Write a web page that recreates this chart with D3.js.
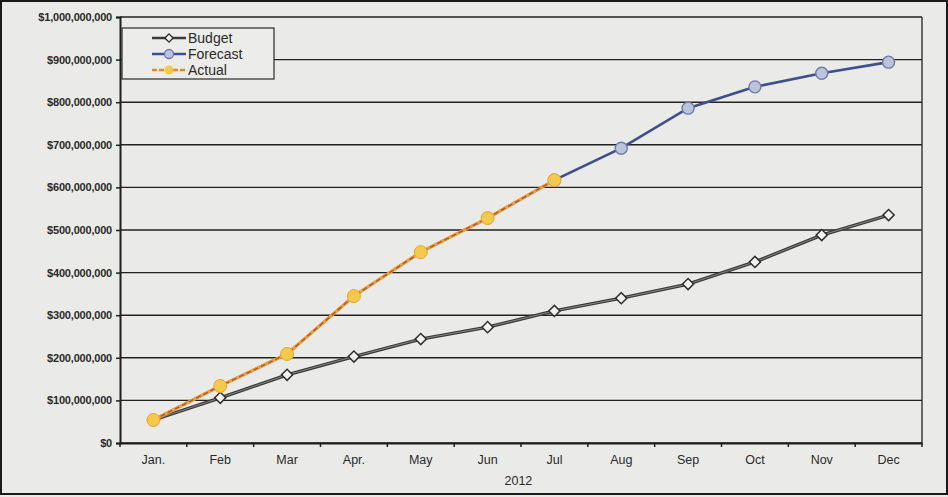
<!DOCTYPE html>
<html>
<head>
<meta charset="utf-8">
<script src="https://cdn.jsdelivr.net/npm/d3@7"></script>
<style>
  html, body { margin: 0; padding: 0; background: #eaeae8; }
  svg { display: block; }
  text { font-family: "Liberation Sans", Arial, sans-serif; fill: #2a2a2a; }
</style>
</head>
<body>
<svg id="chart" width="948" height="497"></svg>
<script>
// Cumulative 2012 spend, dollars
const months = ["Jan.", "Feb", "Mar", "Apr.", "May", "Jun", "Jul", "Aug", "Sep", "Oct", "Nov", "Dec"];
const budget = [54e6, 106e6, 160e6, 203e6, 244e6, 272e6, 310e6, 340e6, 373e6, 425e6, 488e6, 535e6];
const forecast = [54e6, 134e6, 209e6, 345e6, 448e6, 528e6, 617e6, 692e6, 786e6, 836e6, 868e6, 894e6];
const actual = [54e6, 134e6, 209e6, 345e6, 448e6, 528e6, 617e6, null, null, null, null, null];
const yTicks = [0, 1e8, 2e8, 3e8, 4e8, 5e8, 6e8, 7e8, 8e8, 9e8, 1e9];
const xTitle = "2012";

const svg = d3.select("#chart");
const W = 948, H = 497;
const m = { left: 120, right: 26, top: 17, bottom: 54 };
const iw = W - m.left - m.right, ih = H - m.top - m.bottom;

// outer frame
svg.append("rect").attr("x", 1).attr("y", 1).attr("width", W - 2).attr("height", H - 4)
  .attr("fill", "#eaeae8").attr("stroke", "#1a1a1a").attr("stroke-width", 2);

const g = svg.append("g").attr("transform", `translate(${m.left},${m.top})`);

const x = d3.scaleBand().domain(months).range([0, iw]);
const y = d3.scaleLinear().domain([0, 1e9]).range([ih, 0]);
const cx = d => x(d) + x.bandwidth() / 2;

// horizontal gridlines
g.append("g").selectAll("line").data(yTicks).join("line")
  .attr("x1", 0).attr("x2", iw)
  .attr("y1", d => y(d)).attr("y2", d => y(d))
  .attr("stroke", "#222").attr("stroke-width", 1.4);

// right border of the plot
g.append("line").attr("x1", iw).attr("x2", iw).attr("y1", 0).attr("y2", ih)
  .attr("stroke", "#222").attr("stroke-width", 1.3);

// y axis
const yAxis = d3.axisLeft(y).tickValues(yTicks).tickSize(4).tickPadding(4)
  .tickFormat(d => "$" + d3.format(",")(d));
const ya = g.append("g").call(yAxis);
ya.select(".domain").attr("stroke", "#1e1e1e").attr("stroke-width", 2);
ya.selectAll(".tick line").attr("stroke", "#1e1e1e").attr("stroke-width", 1.5);
ya.selectAll(".tick text").attr("font-size", 11).attr("font-weight", "bold")
  .attr("fill", "#333").style("letter-spacing", "-0.2px");

// x axis with ticks between categories
const xa = g.append("g").attr("transform", `translate(0,${ih})`)
  .call(d3.axisBottom(x).tickSize(0).tickPadding(12));
xa.select(".domain").attr("stroke", "#1e1e1e").attr("stroke-width", 2);
xa.selectAll(".tick text").attr("font-size", 12.5).attr("fill", "#333");
xa.append("g").selectAll("line").data(d3.range(months.length + 1)).join("line")
  .attr("x1", i => i * x.step()).attr("x2", i => i * x.step())
  .attr("y1", 0).attr("y2", 4)
  .attr("stroke", "#1e1e1e").attr("stroke-width", 1.5);

g.append("text").attr("x", cx("Jul") - 36).attr("y", ih + 42)
  .attr("text-anchor", "middle").attr("font-size", 12.5).text(xTitle);

const line = d3.line()
  .defined(d => d.v != null)
  .x(d => cx(d.m)).y(d => y(d.v));
const pts = arr => months.map((mo, i) => ({ m: mo, v: arr[i] }));

// Budget: dark double line with hollow diamonds
g.append("path").datum(pts(budget)).attr("d", line)
  .attr("fill", "none").attr("stroke", "#3a3a3a").attr("stroke-width", 3.4);
g.append("path").datum(pts(budget)).attr("d", line)
  .attr("fill", "none").attr("stroke", "#9a9a9a").attr("stroke-width", 0.8);
const diamond = d3.symbol().type(d3.symbolSquare).size(62);
g.append("g").selectAll("path").data(pts(budget)).join("path")
  .attr("d", diamond)
  .attr("transform", d => `translate(${cx(d.m)},${y(d.v)}) rotate(45)`)
  .attr("fill", "#f2f2f0").attr("stroke", "#2e2e2e").attr("stroke-width", 1.5);

// Forecast: blue line with pale circles
g.append("path").datum(pts(forecast)).attr("d", line)
  .attr("fill", "none").attr("stroke", "#3f4f8a").attr("stroke-width", 2.6);
g.append("g").selectAll("circle").data(pts(forecast).slice(6)).join("circle")
  .attr("cx", d => cx(d.m)).attr("cy", d => y(d.v)).attr("r", 6)
  .attr("fill", "#bcc4dc").attr("stroke", "#6f7cab").attr("stroke-width", 1.4);

// Actual: orange line with brown dashes and yellow dots
g.append("path").datum(pts(actual)).attr("d", line)
  .attr("fill", "none").attr("stroke", "#f0a23a").attr("stroke-width", 3.2);
g.append("path").datum(pts(actual)).attr("d", line)
  .attr("fill", "none").attr("stroke", "#b0582a").attr("stroke-width", 1.4)
  .attr("stroke-dasharray", "5,3");
g.append("g").selectAll("circle").data(pts(actual).filter(d => d.v != null)).join("circle")
  .attr("cx", d => cx(d.m)).attr("cy", d => y(d.v)).attr("r", 6.5)
  .attr("fill", "#f6c94a").attr("stroke", "#e7a53a").attr("stroke-width", 1);

// legend
const lg = g.append("g").attr("transform", "translate(2,11)");
lg.append("rect").attr("width", 152).attr("height", 51)
  .attr("fill", "#ececea").attr("stroke", "#2a2a2a").attr("stroke-width", 1.2);
const items = [
  { name: "Budget", color: "#3a3a3a", mark: "diamond" },
  { name: "Forecast", color: "#3f4f8a", mark: "circle" },
  { name: "Actual", color: "#e0862c", mark: "dot" }
];
items.forEach((it, i) => {
  const yy = 10 + i * 16;
  const row = lg.append("g").attr("transform", `translate(0,${yy})`);
  row.append("line").attr("x1", 30).attr("x2", 64).attr("stroke", it.color)
    .attr("stroke-width", 2.6).attr("stroke-dasharray", it.mark === "dot" ? "5,2" : null);
  if (it.mark === "diamond") {
    row.append("path").attr("d", d3.symbol().type(d3.symbolSquare).size(34))
      .attr("transform", "translate(47,0) rotate(45)").attr("fill", "#f2f2f0").attr("stroke", "#2e2e2e").attr("stroke-width", 1.4);
  } else if (it.mark === "circle") {
    row.append("circle").attr("cx", 47).attr("r", 4.5)
      .attr("fill", "#bcc4dc").attr("stroke", "#6f7cab").attr("stroke-width", 1.3);
  } else {
    row.append("circle").attr("cx", 47).attr("r", 4.5).attr("fill", "#f6c94a");
  }
  row.append("text").attr("x", 66).attr("y", 5).attr("font-size", 14).text(it.name);
});
</script>
</body>
</html>
